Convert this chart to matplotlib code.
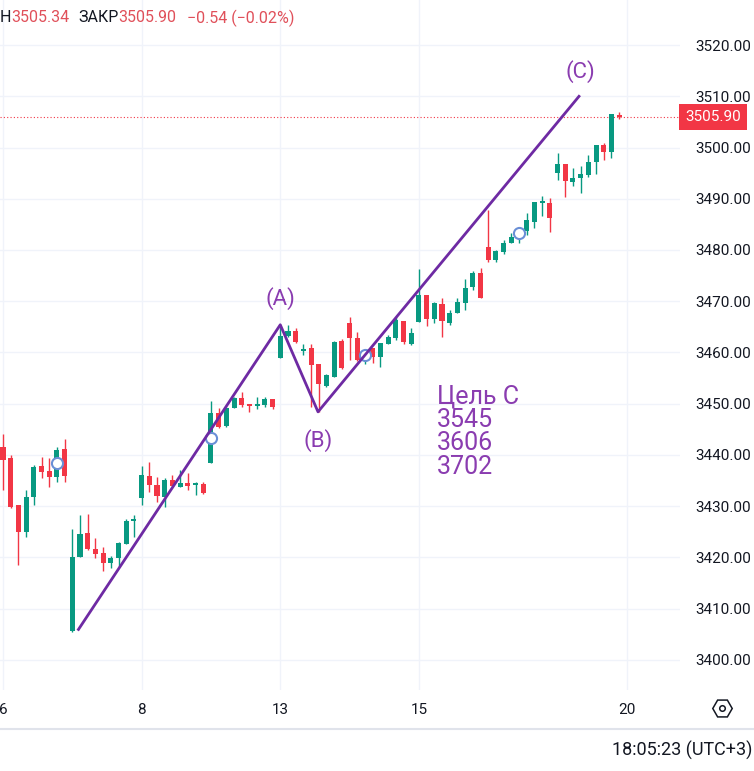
import numpy as np
import matplotlib.pyplot as plt
from matplotlib.lines import Line2D

plt.rcParams['font.family'] = ['Roboto', 'DejaVu Sans']

# hourly candles (open, high, low, close)
opens = [3441.6, 3439.4, 3430.3, 3425.0, 3431.8, 3437.9, 3436.9, 3435.7, 3441.2,
         3405.7, 3420.1, 3424.8, 3421.7, 3420.9, 3418.9, 3419.9, 3422.6, 3427.1,
         3431.6, 3435.9, 3434.2, 3431.8, 3435.1, 3433.8, 3434.5, 3434.2, 3434.3,
         3438.4, 3448.2, 3445.7, 3449.2, 3451.1, 3450.0, 3449.6, 3449.8, 3450.9,
         3458.9, 3463.2, 3464.2, 3460.3, 3460.9, 3457.8, 3453.5, 3455.2, 3462.3,
         3465.8, 3462.8, 3458.7, 3460.9, 3459.1, 3461.7, 3462.8, 3466.1, 3461.7,
         3466.0, 3471.2, 3466.5, 3469.5, 3465.8, 3467.7, 3469.7, 3472.8, 3475.5,
         3480.6, 3478.1, 3479.6, 3481.4, 3482.7, 3483.7, 3485.5, 3489.2, 3489.2,
         3495.0, 3496.8, 3493.3, 3494.1, 3494.6, 3497.2, 3500.5, 3499.1, 3506.3]
highs = [3444.1, 3440.0, 3430.3, 3433.2, 3438.1, 3439.6, 3439.4, 3441.6, 3443.1,
         3425.6, 3428.3, 3428.5, 3423.8, 3422.1, 3420.3, 3423.0, 3427.5, 3428.3,
         3437.9, 3438.6, 3435.7, 3435.5, 3436.1, 3437.1, 3436.5, 3434.7, 3434.7,
         3450.5, 3449.2, 3449.4, 3451.3, 3452.3, 3450.0, 3451.3, 3451.3, 3450.9,
         3465.4, 3465.4, 3464.8, 3461.7, 3461.7, 3457.8, 3455.8, 3462.3, 3462.6,
         3466.9, 3464.0, 3460.1, 3460.9, 3461.9, 3463.4, 3466.9, 3466.1, 3464.8,
         3476.3, 3471.2, 3469.9, 3470.6, 3468.3, 3470.6, 3474.3, 3475.9, 3476.5,
         3487.8, 3480.0, 3482.0, 3483.3, 3483.9, 3487.2, 3489.4, 3490.6, 3490.2,
         3498.9, 3496.8, 3496.0, 3496.4, 3498.5, 3500.5, 3500.9, 3506.5, 3506.9]
lows = [3433.2, 3429.7, 3418.5, 3424.0, 3430.3, 3435.5, 3433.8, 3434.7, 3434.7,
        3405.5, 3420.1, 3421.5, 3419.9, 3417.4, 3417.9, 3418.1, 3422.6, 3424.0,
        3430.3, 3432.8, 3430.8, 3429.9, 3433.8, 3433.8, 3433.2, 3432.2, 3432.4,
        3438.4, 3445.3, 3445.5, 3449.2, 3449.4, 3448.4, 3449.0, 3449.4, 3449.0,
        3458.9, 3463.0, 3461.9, 3459.5, 3449.4, 3448.4, 3453.3, 3455.2, 3456.8,
        3458.5, 3458.3, 3457.8, 3458.0, 3457.2, 3461.7, 3462.4, 3461.7, 3461.5,
        3466.0, 3465.2, 3465.8, 3463.0, 3465.4, 3467.7, 3468.3, 3472.2, 3470.6,
        3477.7, 3477.7, 3479.2, 3481.4, 3481.4, 3482.9, 3484.3, 3486.6, 3483.5,
        3493.7, 3490.3, 3492.5, 3491.1, 3494.2, 3494.8, 3497.6, 3498.0, 3505.6]
closes = [3439.0, 3429.9, 3425.0, 3431.8, 3437.7, 3436.7, 3435.7, 3441.0, 3435.9,
          3420.1, 3424.6, 3421.7, 3420.7, 3418.9, 3419.9, 3422.8, 3427.1, 3427.5,
          3436.1, 3434.2, 3432.0, 3435.1, 3434.0, 3434.5, 3434.0, 3434.3, 3432.6,
          3448.2, 3445.5, 3449.2, 3451.1, 3449.8, 3449.6, 3450.0, 3450.9, 3449.4,
          3463.2, 3464.2, 3462.1, 3460.7, 3457.6, 3453.9, 3455.6, 3462.1, 3457.0,
          3462.8, 3458.5, 3459.9, 3459.1, 3461.9, 3463.0, 3466.3, 3462.1, 3463.8,
          3471.2, 3466.5, 3469.7, 3466.1, 3467.7, 3469.9, 3472.6, 3475.5, 3470.6,
          3478.1, 3479.8, 3481.4, 3482.5, 3483.5, 3485.9, 3489.4, 3489.4, 3486.2,
          3496.8, 3493.5, 3494.1, 3494.8, 3497.2, 3500.5, 3499.1, 3506.5, 3505.9]

day_ticks = [0, 18, 36, 54, 81]
day_labels = ['6', '8', '13', '15', '20']
price_ticks = np.arange(3400, 3521, 10)

# wave drawing (A)-(B)-(C)
wave_x = [9.7, 36.0, 40.9, 74.9]
wave_y = [3405.7, 3465.4, 3448.4, 3510.2]
wave_names = ['(A)', '(B)', '(C)']
wave_label_y = [3470.6, 3442.8, 3514.9]

# idea markers
mark_x = [7, 27, 47, 67]
mark_y = [3438.4, 3443.3, 3459.5, 3483.3]

last_price = 3505.90

UP = '#089981'
DOWN = '#f23645'
PURPLE = '#6e2aa3'
TEXT = '#131722'

fig = plt.figure(figsize=(7.54, 7.71), dpi=100)
ax = fig.add_axes([0, 1 - 690 / 771, 680 / 754, 690 / 771])

o = np.array(opens)
h = np.array(highs)
l = np.array(lows)
c = np.array(closes)
x = np.arange(len(o))
cols = np.where(c >= o, UP, DOWN)

ax.vlines(x, l, h, colors=cols, lw=1, zorder=3)
body = np.maximum(np.abs(c - o), 0.3)
ax.bar(x, body, bottom=np.minimum(o, c), width=0.66, color=cols, zorder=3)

ax.plot(mark_x, mark_y, 'o', ms=8, mfc='white', mec='#6a8fd6', mew=1.5, zorder=4)

ax.plot(wave_x, wave_y, color=PURPLE, lw=2, zorder=5, solid_capstyle='butt')
for i, name in enumerate(wave_names):
    ax.text(wave_x[i + 1], wave_label_y[i], name, ha='center', va='center',
            fontsize=16, color='#8a3cb0', zorder=6)
ax.text(56.3, 3453.8, 'Цель С\n3545\n3606\n3702', ha='left', va='top',
        fontsize=18, color='#8a3cb0', linespacing=0.98, zorder=6)

ax.axhline(last_price, color=DOWN, ls=(0, (1, 2)), lw=0.8, zorder=2)
ax.text(1.008, last_price, '%.2f' % last_price, transform=ax.get_yaxis_transform(),
        ha='left', va='center', color='white', fontsize=11,
        bbox=dict(boxstyle='square,pad=0.4', fc=DOWN, ec='none'), clip_on=False)

ax.set_xlim(-0.39, 87.9)
ax.set_ylim(3394.1, 3528.8)
ax.set_xticks(day_ticks)
ax.set_xticklabels(day_labels)
ax.set_yticks(price_ticks)
ax.set_yticklabels(['%.2f' % p for p in price_ticks])
ax.yaxis.tick_right()
ax.tick_params(axis='y', length=0, pad=11, labelsize=11, labelcolor=TEXT)
ax.tick_params(axis='x', length=0, pad=9, labelsize=11, labelcolor=TEXT)
ax.grid(True, color='#f0f3fa', lw=1, zorder=0)
for s in ax.spines.values():
    s.set_visible(False)

# header line
hy = 1 - 18 / 771
parts = [(0, 'Н', TEXT), (11, '3505.34', '#e0505a'), (78, 'ЗАКР', TEXT),
         (118, '3505.90', '#e0505a'), (187, '−0.54 (−0.02%)', '#e0505a')]
for px, s, col in parts:
    fig.text(px / 754, hy, s, ha='left', va='center', fontsize=11.5, color=col)

fig.add_artist(Line2D([0, 1], [1 - 729 / 771] * 2, transform=fig.transFigure,
                      color='#e0e3eb', lw=1.5))
fig.text(752 / 754, 1 - 750 / 771, '18:05:23 (UTC+3)', ha='right', va='center',
         fontsize=13, color=TEXT)
fig.add_artist(Line2D([722 / 754], [1 - 708 / 771], marker='H', ms=14, mfc='none',
                      mec=TEXT, mew=1.1, transform=fig.transFigure))
fig.add_artist(Line2D([722 / 754], [1 - 708 / 771], marker='o', ms=4, mfc='none',
                      mec=TEXT, mew=1.1, transform=fig.transFigure))

fig.savefig('out.png', dpi=100)
